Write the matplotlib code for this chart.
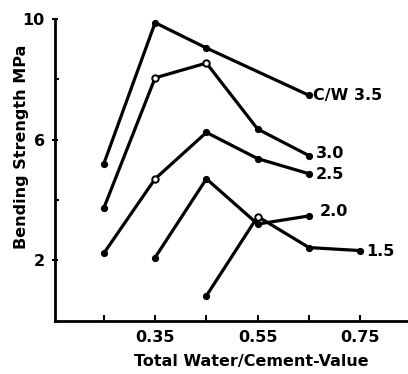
import matplotlib
matplotlib.use("Agg")
import matplotlib.pyplot as plt

# data
x_35 = [0.25, 0.35, 0.45, 0.65]
y_35 = [5.2, 9.88, 9.04, 7.47]
x_30 = [0.25, 0.35, 0.45, 0.55, 0.65]
y_30 = [3.73, 8.05, 8.54, 6.35, 5.47]
x_25 = [0.25, 0.35, 0.45, 0.55, 0.65]
y_25 = [2.23, 4.70, 6.24, 5.37, 4.87]
x_20 = [0.35, 0.45, 0.55, 0.65]
y_20 = [2.09, 4.70, 3.20, 3.47]
x_15 = [0.45, 0.55, 0.65, 0.75]
y_15 = [0.82, 3.45, 2.42, 2.32]
series_labels = ["C/W 3.5", "3.0", "2.5", "2.0", "1.5"]
# indices of points drawn as open circles in each series
open_pts = [[], [1, 2], [1], [], [1]]

x_ticks = [0.25, 0.35, 0.45, 0.55, 0.65, 0.75]
x_ticklabels = ["", "0.35", "", "0.55", "", "0.75"]
y_ticks = [2, 6, 10]
y_minor = [4, 8]

plt.rcParams['font.family'] = ['DejaVu Sans']
fig = plt.figure(figsize=(4.08, 3.74), dpi=100)
ax = fig.add_axes([0.135, 0.143, 0.865, 0.806])

series = [(x_35, y_35), (x_30, y_30), (x_25, y_25), (x_20, y_20), (x_15, y_15)]
for (xs, ys), opn in zip(series, open_pts):
    ax.plot(xs, ys, color='black', lw=2.3, marker='o', ms=4.2,
            mfc='black', mec='black', solid_joinstyle='round', zorder=2)
    if opn:
        ax.plot([xs[i] for i in opn], [ys[i] for i in opn], ls='none',
                marker='o', ms=4.6, mfc='white', mec='black', mew=1.4, zorder=3)

fs = 11.5
ax.text(0.658, 7.45, series_labels[0], fontsize=fs, fontweight='bold', va='center', ha='left')
ax.text(0.664, 5.55, series_labels[1], fontsize=fs, fontweight='bold', va='center', ha='left')
ax.text(0.664, 4.85, series_labels[2], fontsize=fs, fontweight='bold', va='center', ha='left')
ax.text(0.67, 3.6, series_labels[3], fontsize=fs, fontweight='bold', va='center', ha='left')
ax.text(0.762, 2.3, series_labels[4], fontsize=fs, fontweight='bold', va='center', ha='left')

ax.set_xlim(0.155, 0.843)
ax.set_ylim(0, 10)
ax.set_xticks(x_ticks)
ax.set_xticklabels(x_ticklabels, fontsize=fs, fontweight='bold')
ax.set_yticks(y_ticks)
ax.set_yticklabels([str(v) for v in y_ticks], fontsize=fs, fontweight='bold')
ax.set_yticks(y_minor, minor=True)
ax.tick_params(axis='x', direction='in', length=4, width=1.5, pad=7)
ax.tick_params(axis='y', direction='inout', length=5, width=1.5, pad=5)
ax.tick_params(axis='y', which='minor', direction='in', length=3, width=1.5)

for s in ['top', 'right']:
    ax.spines[s].set_visible(False)
for s in ['left', 'bottom']:
    ax.spines[s].set_linewidth(2)

ax.set_xlabel("Total Water/Cement-Value", fontsize=fs, fontweight='bold')
ax.set_ylabel("Bending Strength MPa", fontsize=fs, fontweight='bold')
ax.xaxis.set_label_coords(0.555, -0.112)
ax.yaxis.set_label_coords(-0.075, 0.575)

fig.savefig("out.png", dpi=100)
